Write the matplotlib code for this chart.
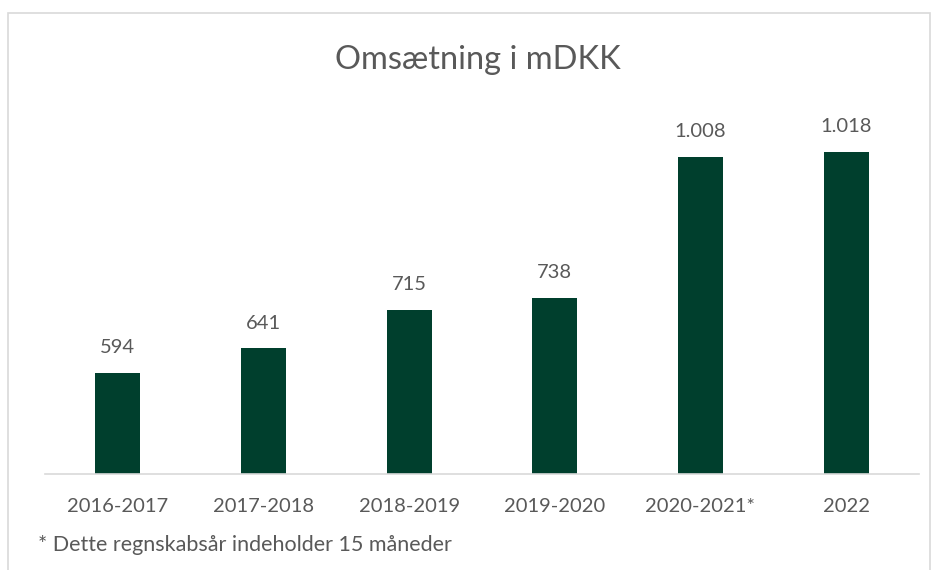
import matplotlib.pyplot as plt
from matplotlib.patches import Rectangle

plt.rcParams['font.family'] = ['Lato', 'DejaVu Sans']

years = ['2016-2017', '2017-2018', '2018-2019', '2019-2020', '2020-2021*', '2022']
revenue = [594, 641, 715, 738, 1008, 1018]
labels = ['594', '641', '715', '738', '1.008', '1.018']

barColor = '#003F2D'
textColor = '#595959'

fig = plt.figure(figsize=(9.33, 5.7), dpi=100)

# outer chart border
fig.patches.append(Rectangle((8 / 933, -0.01), 922 / 933, 1 - 13 / 570 + 0.01,
                             transform=fig.transFigure, fill=False,
                             edgecolor='#D9D9D9', lw=1.2))

ax = fig.add_axes([45 / 933, 96 / 570, 874 / 933, 365 / 570])

x = range(len(years))
ax.bar(x, revenue, width=0.31, color=barColor, zorder=2)

for i, (v, lab) in enumerate(zip(revenue, labels)):
    ax.annotate(lab, (i, v), xytext=(0, 12), textcoords='offset points',
                ha='center', va='bottom', fontsize=14.5, color=textColor)

ax.set_ylim(400, 1100)
ax.set_xlim(-0.5, len(years) - 0.5)
ax.set_xticks(list(x))
ax.set_xticklabels(years, fontsize=14.5, color=textColor)
ax.tick_params(axis='x', length=0, pad=17)
ax.set_yticks([])

for s in ['top', 'right', 'left']:
    ax.spines[s].set_visible(False)
ax.spines['bottom'].set_color('#D9D9D9')
ax.spines['bottom'].set_linewidth(1.2)

fig.text(478 / 933, 1 - 60 / 570, 'Omsætning i mDKK', ha='center', va='center',
         fontsize=23.5, color=textColor)
fig.text(38 / 933, 1 - 545 / 570, '* Dette regnskabsår indeholder 15 måneder',
         ha='left', va='center', fontsize=15.5, color=textColor)

plt.savefig('out.png', dpi=100)
